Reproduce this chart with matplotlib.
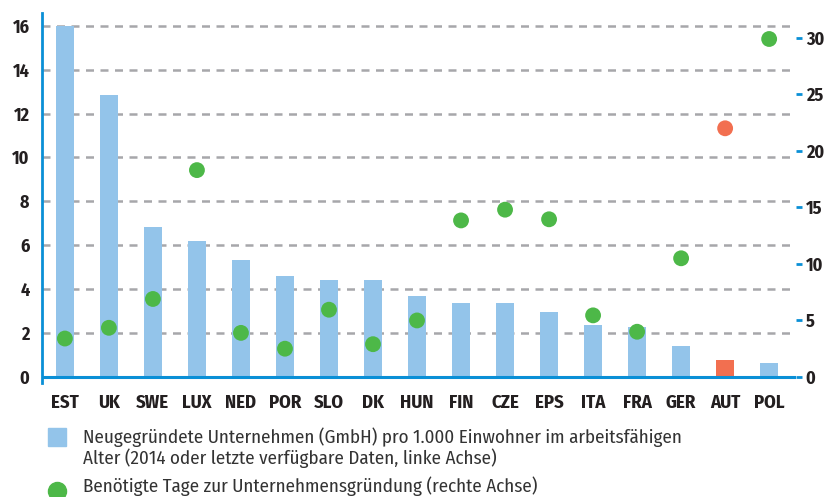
import matplotlib
matplotlib.use('Agg')
from matplotlib import pyplot as plt
from matplotlib.patches import Rectangle
from matplotlib.lines import Line2D

countries = ['EST', 'UK', 'SWE', 'LUX', 'NED', 'POR', 'SLO', 'DK', 'HUN',
             'FIN', 'CZE', 'EPS', 'ITA', 'FRA', 'GER', 'AUT', 'POL']
new_firms = [16.0, 12.85, 6.83, 6.19, 5.33, 4.6, 4.42, 4.42, 3.69,
             3.37, 3.37, 2.96, 2.37, 2.28, 1.41, 0.77, 0.64]
days_needed = [3.4, 4.35, 6.9, 18.3, 3.9, 2.5, 5.95, 2.9, 5.0,
               13.85, 14.8, 13.95, 5.45, 4.0, 10.5, 22.0, 29.9]
highlight = 'AUT'

left_ticks = [0, 2, 4, 6, 8, 10, 12, 14, 16]
right_ticks = [0, 5, 10, 15, 20, 25, 30]

legend_bar = ['Neugegründete Unternehmen (GmbH) pro 1.000 Einwohner im arbeitsfähigen',
              'Alter (2014 oder letzte verfügbare Daten, linke Achse)']
legend_dot = 'Benötigte Tage zur Unternehmensgründung (rechte Achse)'

BLUE_BAR = '#93C4EA'
RED = '#F26F50'
GREEN = '#4DB848'
AXIS_BLUE = '#0A8FD6'
GRID = '#A7A7AA'
TEXT = '#231F20'

plt.rcParams['font.family'] = ['Fira Sans Condensed', 'Barlow Semi Condensed', 'DejaVu Sans']

fig = plt.figure(figsize=(8.28, 4.97), dpi=100)
ax = fig.add_axes([42 / 828, 114.5 / 497, 754 / 828, 369.5 / 497])
ax2 = ax.twinx()

x = list(range(len(countries)))
bar_colors = [RED if c == highlight else BLUE_BAR for c in countries]
dot_colors = [RED if c == highlight else GREEN for c in countries]

ax.bar(x, new_firms, width=0.41, color=bar_colors, zorder=2)
ax.set_xlim(-0.52, 16.61)
ax.set_ylim(-0.25, 16.58)
ax.set_yticks(left_ticks)
ax.grid(axis='y', color=GRID, linewidth=1.8, linestyle=(0, (3.2, 2.6)), zorder=1)
ax.axhline(0, color=AXIS_BLUE, linewidth=2.2, zorder=3)

for side in ['top', 'right', 'bottom']:
    ax.spines[side].set_visible(False)
ax.spines['left'].set_color(AXIS_BLUE)
ax.spines['left'].set_linewidth(2)
ax.tick_params(axis='y', length=0, pad=9, labelsize=13, labelcolor=TEXT)
ax.tick_params(axis='x', length=0, pad=8, labelsize=13.5, labelcolor=TEXT)
ax.set_xticks(x)
ax.set_xticklabels(countries, fontweight='bold')
for lab in ax.get_yticklabels():
    lab.set_fontweight('bold')

ax2.scatter(x, days_needed, s=130, color=dot_colors, zorder=4, linewidths=0)
ax2.set_ylim(-0.49, 32.2)
ax2.set_yticks(right_ticks)
for side in ['top', 'right', 'bottom', 'left']:
    ax2.spines[side].set_visible(False)
ax2.tick_params(axis='y', length=4.5, width=2, color=AXIS_BLUE, pad=2.5,
                labelsize=13, labelcolor=TEXT)
for lab in ax2.get_yticklabels():
    lab.set_fontweight('bold')

# legend drawn by hand below the chart
fig.add_artist(Rectangle((48 / 828, 51 / 497), 18 / 828, 18 / 497,
                         transform=fig.transFigure, color=BLUE_BAR))
fig.add_artist(Line2D([57 / 828], [6 / 497], transform=fig.transFigure,
                      marker='o', markersize=13, color=GREEN, linestyle='none'))
fig.text(83 / 828, 54 / 497, legend_bar[0], fontsize=13.7, color='#333333', va='baseline')
fig.text(83 / 828, 33 / 497, legend_bar[1], fontsize=13.7, color='#333333', va='baseline')
fig.text(83 / 828, 5 / 497, legend_dot, fontsize=13.7, color='#333333', va='baseline')

fig.savefig('out.png', dpi=100)
